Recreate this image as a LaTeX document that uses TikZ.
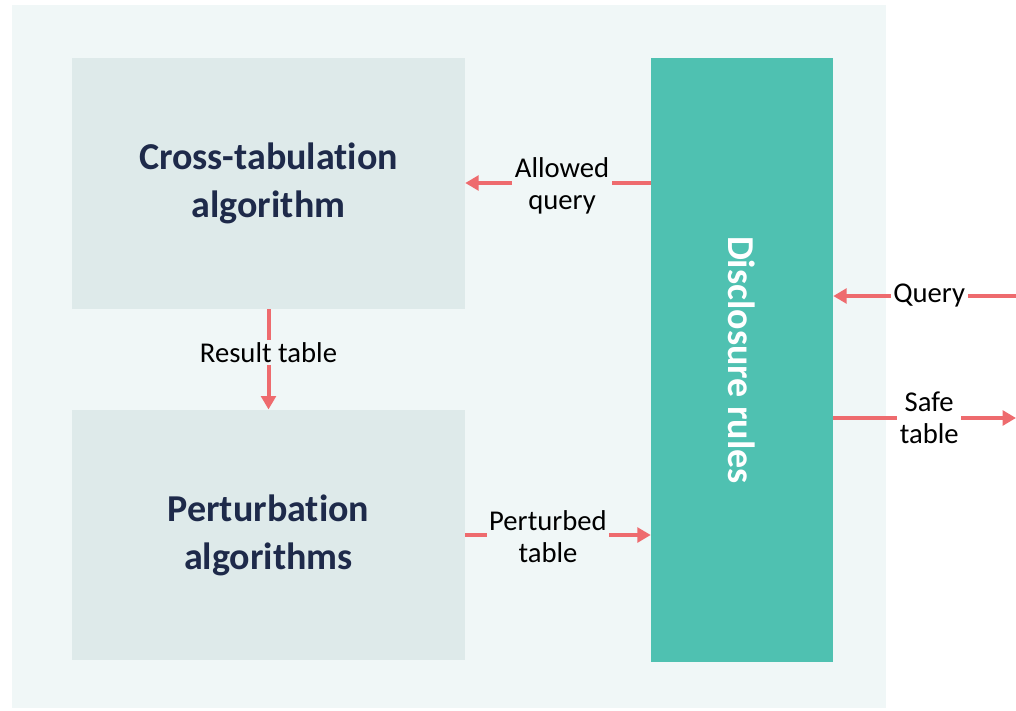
\documentclass[tikz,border=0pt]{standalone}
\usepackage{fontspec}
\setmainfont{Carlito}[Ligatures=NoCommon]
\usetikzlibrary{arrows.meta, positioning}

\definecolor{panelbg}{HTML}{F0F7F7}
\definecolor{boxbg}{HTML}{DEEAEA}
\definecolor{rulesbg}{HTML}{4FC1B1}
\definecolor{arrred}{HTML}{EE6B6E}
\definecolor{titleblue}{HTML}{1E2A4A}

\tikzset{
  algbox/.style={fill=boxbg, minimum width=294.75pt, minimum height=188pt,
    align=center, text=titleblue, font=\fontsize{28.5}{36}\selectfont\bfseries},
  flow/.style={draw=arrred, line width=3pt, -{Triangle[length=10pt, width=11pt]}},
  lbl/.style={fill=panelbg, align=center, inner sep=2pt,
    font=\fontsize{21.5}{24}\selectfont},
  outlbl/.style={lbl, fill=white},
}

\begin{document}
\begin{tikzpicture}[x=0.75pt, y=-0.75pt]
\useasboundingbox (0,0) rectangle (1016,710);
\fill[panelbg] (12,5) rectangle (886,708);

% boxes
\node[algbox] (cross) at (268.5,183.5) {Cross-tabulation\\algorithm};
\node[algbox] (pert) at (268.5,535) {Perturbation\\algorithms};
\node[fill=rulesbg, minimum width=136.5pt, minimum height=453pt,
  text=white, font=\fontsize{28.5}{30}\selectfont\bfseries] (rules) at (742,360)
  {\rotatebox{-90}{Disclosure rules}};

% outside ends
\coordinate (qin) at (1016,296);
\coordinate (sout) at (1016,418);

% connectors
\draw[flow] (rules.west |- 0,183) -- node[lbl, pos=0.478, yshift=-2.5pt] {Allowed\\query} (cross.east |- 0,183);
\draw[flow] (cross) -- node[lbl, pos=0.43] {Result table} (pert);
\draw[flow] (pert.east |- 0,535) -- node[lbl, pos=0.446, yshift=-1pt] {Perturbed\\table} (rules.west |- 0,535);
\draw[flow] (qin) -- node[outlbl, pos=0.475] {Query} (rules.east |- qin);
\draw[flow] (rules.east |- sout) -- node[outlbl, pos=0.525] {Safe\\table} (sout);
\end{tikzpicture}
\end{document}
